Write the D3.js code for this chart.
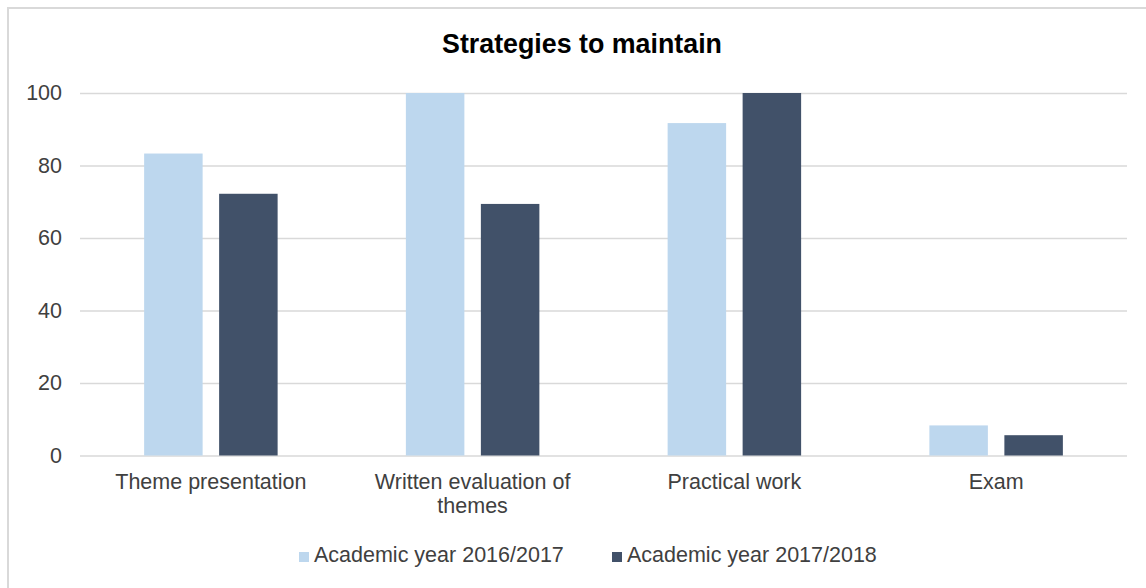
<!DOCTYPE html>
<html>
<head>
<meta charset="utf-8">
<script src="https://cdn.jsdelivr.net/npm/d3@7"></script>
<style>
  body { margin: 0; background: #fff; }
  svg { display: block; font-family: "Liberation Sans", Arial, sans-serif; }
</style>
</head>
<body>
<figure id="chart" style="margin:0"></figure>
<script>
// data
const categories = ["Theme presentation", "Written evaluation of themes", "Practical work", "Exam"];
const seriesNames = ["Academic year 2016/2017", "Academic year 2017/2018"];
const year2016 = [83.3, 100, 91.7, 8.3];
const year2017 = [72.2, 69.4, 100, 5.6];
const yTicks = [0, 20, 40, 60, 80, 100];
const colors = ["#bdd7ee", "#415169"];

const width = 1146;
const height = 588;
const marginLeft = 80;
const marginRight = 19;
const plotTop = 93;
const plotBottom = 455.5;

const rows = categories.map((c, i) => ({ category: c, values: [year2016[i], year2017[i]] }));

const svg = d3.select("figure#chart")
  .append("svg")
  .attr("width", width)
  .attr("height", height)
  .attr("viewBox", [0, 0, width, height]);

// chart frame (runs off the right and bottom edges like the source)
svg.append("rect")
  .attr("x", 8).attr("y", 8)
  .attr("width", width + 20).attr("height", height + 20)
  .attr("fill", "none")
  .attr("stroke", "#d9d9d9")
  .attr("stroke-width", 2);

// title
svg.append("text")
  .attr("x", 582)
  .attr("y", 53)
  .attr("text-anchor", "middle")
  .attr("font-size", 26.8)
  .attr("font-weight", "bold")
  .attr("fill", "#000")
  .text("Strategies to maintain");

// scales
const x0 = d3.scaleBand()
  .domain(categories)
  .range([marginLeft, width - marginRight])
  .paddingInner(0.49)
  .paddingOuter(0.245);

const x1 = d3.scaleBand()
  .domain(seriesNames)
  .range([0, x0.bandwidth()])
  .paddingInner(0.22);

const y = d3.scaleLinear()
  .domain([0, 100])
  .range([plotBottom, plotTop]);

// y axis with gridlines
svg.append("g")
  .attr("transform", `translate(${marginLeft},0)`)
  .call(d3.axisLeft(y).tickValues(yTicks).tickSize(-(width - marginRight - marginLeft)).tickPadding(18))
  .call(g => g.select(".domain").remove())
  .call(g => g.selectAll(".tick line").attr("stroke", "#d9d9d9").attr("stroke-width", 1.5))
  .call(g => g.selectAll(".tick text")
    .attr("font-size", 21.5)
    .attr("font-family", "Liberation Sans, Arial, sans-serif")
    .attr("fill", "#404040"));

// bars
svg.append("g")
  .selectAll("g")
  .data(rows)
  .join("g")
    .attr("transform", d => `translate(${x0(d.category)},0)`)
  .selectAll("rect")
  .data(d => d.values.map((v, i) => ({ name: seriesNames[i], value: v, i })))
  .join("rect")
    .attr("x", d => x1(d.name))
    .attr("y", d => y(d.value))
    .attr("width", x1.bandwidth())
    .attr("height", d => y(0) - y(d.value))
    .attr("fill", d => colors[d.i]);

// category labels (wrapped like the source)
const wrapped = {
  "Written evaluation of themes": ["Written evaluation of", "themes"]
};
const xLabels = svg.append("g")
  .attr("font-size", 21.5)
  .attr("fill", "#404040")
  .attr("text-anchor", "middle")
  .selectAll("text")
  .data(categories)
  .join("text")
    .attr("x", d => x0(d) + x0.bandwidth() / 2)
    .attr("y", 489);

xLabels.selectAll("tspan")
  .data(d => wrapped[d] || [d])
  .join("tspan")
    .attr("x", function () { return d3.select(this.parentNode).attr("x"); })
    .attr("dy", (d, i) => i === 0 ? 0 : 24)
    .text(d => d);

// legend
const legendX = [299, 612];
const legend = svg.append("g")
  .selectAll("g")
  .data(seriesNames)
  .join("g")
    .attr("transform", (d, i) => `translate(${legendX[i]},552)`);

legend.append("rect")
  .attr("width", 10)
  .attr("height", 10)
  .attr("fill", (d, i) => colors[i]);

legend.append("text")
  .attr("x", 15)
  .attr("y", 10)
  .attr("font-size", 21.5)
  .attr("fill", "#404040")
  .text(d => d);
</script>
</body>
</html>
